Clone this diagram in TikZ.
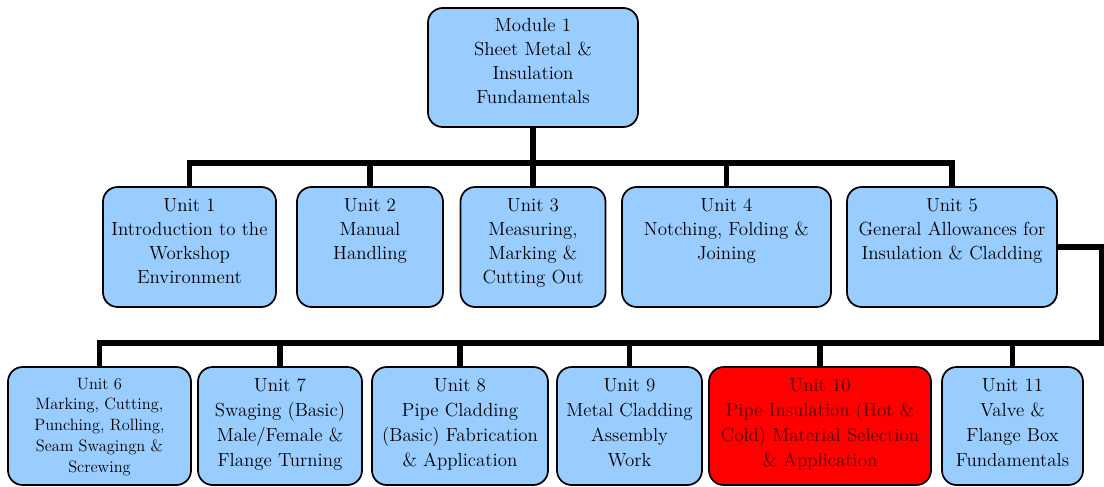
\documentclass[tikz,border=0pt]{standalone}
\usepackage{fontspec}
\definecolor{boxblue}{HTML}{99CCFF}
\definecolor{boxred}{HTML}{FF0000}
\definecolor{darkred}{HTML}{4A0000}
\newcommand\bx[4]{\parbox[c][#2][t]{#1}{\centering\rule{0pt}{#3}#4\par}}
\newcommand\fsmain{\fontsize{14.2}{18}\selectfont}
\newcommand\fslow{\fontsize{14.2}{18.6}\selectfont}
\newcommand\fssmall{\fontsize{12.3}{15.7}\selectfont}
\tikzset{
  ubox/.style={draw=black, line width=1.3pt, rounded corners=11pt, fill=boxblue, inner sep=0pt, text=black},
  redbox/.style={ubox, fill=boxred, text=darkred},
  conn/.style={line width=4pt, line join=miter, draw=black},
}
\begin{document}
\begin{tikzpicture}[x=0.75pt,y=-0.75pt]
\useasboundingbox (0,0) rectangle (1104,486);
% top
\node[ubox] (m) at (533,67.5) {\bx{157.5pt}{89.25pt}{17.75pt}{\fsmain Module 1\\Sheet Metal \&\\Insulation\\Fundamentals}};
% row 2
\node[ubox] (u1) at (189.5,247) {\bx{129.75pt}{90pt}{18.5pt}{\fsmain Unit 1\\Introduction to the\\Workshop\\Environment}};
\node[ubox] (u2) at (370,247) {\bx{109.5pt}{90pt}{18.5pt}{\fsmain Unit 2\\Manual\\Handling}};
\node[ubox] (u3) at (533,247) {\bx{108.75pt}{90pt}{18.5pt}{\fsmain Unit 3\\Measuring,\\Marking \&\\Cutting Out}};
\node[ubox] (u4) at (726.5,247) {\bx{156.75pt}{90pt}{18.5pt}{\fsmain Unit 4\\Notching, Folding \&\\Joining}};
\node[ubox] (u5) at (952,247) {\bx{157.5pt}{90pt}{18.5pt}{\fsmain Unit 5\\General Allowances for\\Insulation \& Cladding}};
% row 3
\node[ubox] (u6) at (99.5,426) {\bx{137.25pt}{88.5pt}{16.5pt}{\fssmall Unit 6\\Marking, Cutting,\\Punching, Rolling,\\Seam Swagingn \&\\Screwing}};
\node[ubox] (u7) at (280,426) {\bx{123pt}{88.5pt}{18.5pt}{\fslow Unit 7\\Swaging (Basic)\\Male/Female \&\\Flange Turning}};
\node[ubox] (u8) at (460,426) {\bx{132pt}{88.5pt}{18.5pt}{\fslow Unit 8\\Pipe Cladding\\(Basic) Fabrication\\\& Application}};
\node[ubox] (u9) at (629.5,426) {\bx{108.75pt}{88.5pt}{18.5pt}{\fslow Unit 9\\Metal Cladding\\Assembly\\Work}};
\node[redbox] (u10) at (820,426) {\bx{166.5pt}{88.5pt}{18.5pt}{\fslow Unit 10\\Pipe Insulation (Hot \&\\Cold) Material Selection\\\& Application}};
\node[ubox] (u11) at (1012.5,426) {\bx{105.75pt}{88.5pt}{18.5pt}{\fslow Unit 11\\Valve \&\\Flange Box\\Fundamentals}};
% connectors
\coordinate (b1) at (533,163);
\draw[conn] (u1.north) |- (b1) -| (u5.north);
\draw[conn] (m.south) -- (u3.north);
\draw[conn] (u2.north) -- (u2.north |- b1);
\draw[conn] (u4.north) -- (u4.north |- b1);
\coordinate (r) at (1102,343);
\draw[conn] (u5.east) -| (r) -| (u6.north);
\draw[conn] (u7.north) -- (u7.north |- r);
\draw[conn] (u8.north) -- (u8.north |- r);
\draw[conn] (u9.north) -- (u9.north |- r);
\draw[conn] (u10.north) -- (u10.north |- r);
\draw[conn] (u11.north) -- (u11.north |- r);
\end{tikzpicture}
\end{document}
